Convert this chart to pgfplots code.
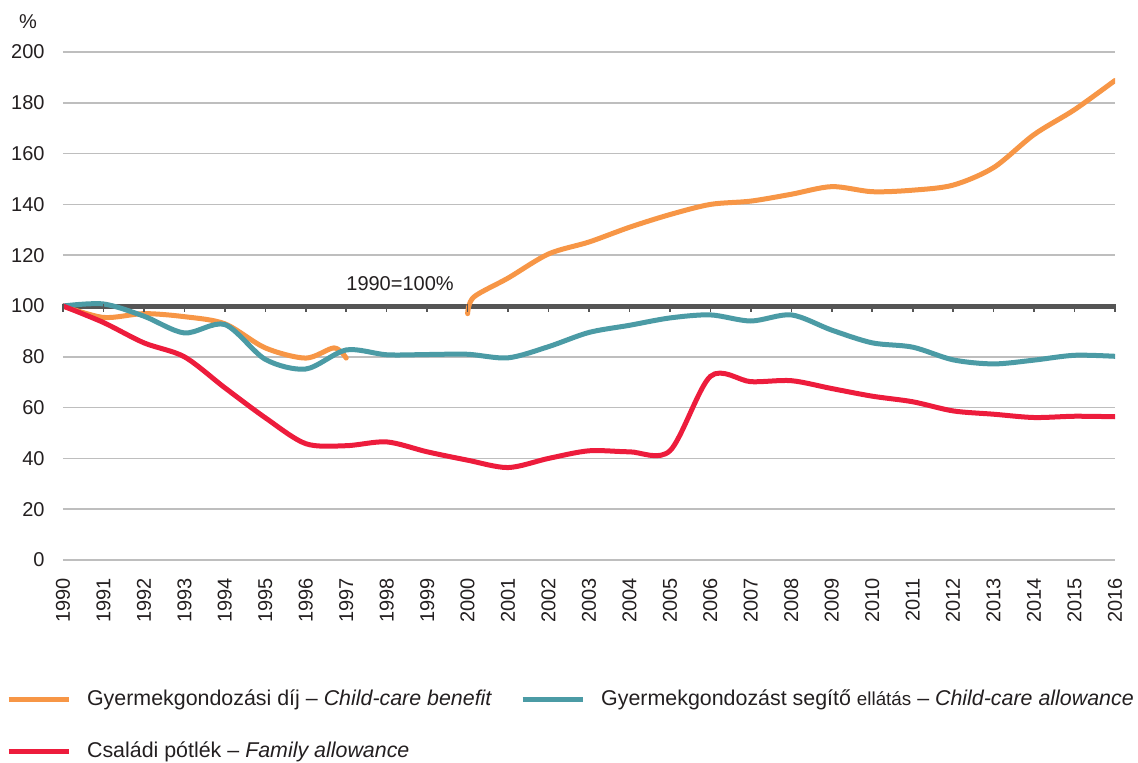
\documentclass[border=0pt]{standalone}
\usepackage{pgfplots}
\pgfplotsset{compat=1.18}
\usepackage{fontspec}
\setmainfont{Liberation Sans}
\definecolor{cOrange}{RGB}{247,150,70}
\definecolor{cTeal}{RGB}{75,155,165}
\definecolor{cRed}{RGB}{237,28,60}
\definecolor{cGrid}{RGB}{190,190,190}
\definecolor{cDark}{RGB}{85,85,85}
\definecolor{cText}{RGB}{35,31,32}
\begin{document}
\begin{tikzpicture}
\useasboundingbox (-31.5pt,-101pt) rectangle (537.5pt,280pt);
\begin{axis}[
  at={(0,0)}, anchor=south west,
  scale only axis, width=526pt, height=254pt,
  xmin=1990, xmax=2016, ymin=0, ymax=200,
  xtick={1990,...,2016}, ytick={0,20,...,200},
  /pgf/number format/1000 sep={},
  /pgf/number format/assume math mode=true,
  axis line style={draw=none}, tick style={draw=none},
  ymajorgrids, grid style={cGrid, line width=0.8pt},
  font=\fontsize{10}{12}\selectfont, 
  every tick label/.append style={text=cText},
  yticklabel style={anchor=east, inner sep=0pt, xshift=-9pt},
  xticklabel style={rotate=90, anchor=east, inner sep=0pt, xshift=-9pt},
  legend columns=2,
  legend cell align=left,
  legend style={at={(rel axis cs:-0.0545,-0.252)}, anchor=north west, draw=none, fill=none,
    inner sep=0pt, font=\fontsize{10.7}{12.8}\selectfont, text=cText,
    nodes={inner sep=0pt, text height=8.5pt, text depth=2.5pt},
    /tikz/every odd column/.append style={column sep=8pt},
    /tikz/every even column/.append style={column sep=14pt},
    row sep=15pt},
  legend image code/.code={\draw[#1, line width=2.5pt, line cap=butt] (0pt,0pt) -- (30pt,0pt);},
]
\addplot[cDark, line width=2.5pt, forget plot] coordinates {(1990,100)(2016,100)};
\addplot[cDark, only marks, mark=|, mark size=1.9pt, mark options={line width=0.8pt}, forget plot] coordinates {(1990,99.25)(1991,99.25)(1992,99.25)(1993,99.25)(1994,99.25)(1995,99.25)(1996,99.25)(1997,99.25)(1998,99.25)(1999,99.25)(2000,99.25)(2001,99.25)(2002,99.25)(2003,99.25)(2004,99.25)(2005,99.25)(2006,99.25)(2007,99.25)(2008,99.25)(2009,99.25)(2010,99.25)(2011,99.25)(2012,99.25)(2013,99.25)(2014,99.25)(2015,99.25)(2016,99.25)};
\addplot[cOrange, line width=2.5pt, smooth, line cap=round] coordinates {(1990,100)(1991,95.5)(1992,97)(1993,95.8)(1994,93)(1995,83.5)(1996,79.5)(1996.7,83.5)(1997,79.5)};
\addplot[cTeal, line width=2.5pt, smooth, line cap=round] coordinates {(1990,100)(1991,100.8)(1992,96)(1993,89.4)(1994,92.7)(1995,79)(1996,75.2)(1997,82.7)(1998,80.8)(1999,80.9)(2000,81)(2001,79.6)(2002,84)(2003,89.6)(2004,92.4)(2005,95.3)(2006,96.5)(2007,94.1)(2008,96.5)(2009,90.5)(2010,85.5)(2011,83.8)(2012,78.8)(2013,77.2)(2014,78.7)(2015,80.6)(2016,80.2)};
\addplot[cRed, line width=2.5pt, smooth, line cap=round] coordinates {(1990,100)(1991,93.5)(1992,85.5)(1993,80)(1994,67.8)(1995,56)(1996,45.8)(1997,45)(1998,46.5)(1999,42.6)(2000,39.3)(2001,36.4)(2002,40)(2003,43)(2004,42.6)(2005,43)(2006,72.3)(2007,70.2)(2008,70.6)(2009,67.5)(2010,64.5)(2011,62.3)(2012,58.7)(2013,57.4)(2014,56.1)(2015,56.6)(2016,56.4)};
\addplot[cOrange, line width=2.5pt, smooth, line cap=round, forget plot] coordinates {(2000,97)(2000.15,103.5)(2001,111)(2002,120.5)(2003,125.2)(2004,131)(2005,136)(2006,140)(2007,141.3)(2008,144)(2009,147)(2010,145)(2011,145.6)(2012,147.6)(2013,154.5)(2014,167.5)(2015,177.3)(2016,188.8)};
\legend{Gyermekgondozási díj – \textit{Child-care benefit},
        Gyermekgondozást segítő {\fontsize{9.4}{11}\selectfont ellátás} – \textit{Child-care allowance},
        Családi pótlék – \textit{Family allowance}}
\node[text=cText, font=\fontsize{10}{12}\selectfont] at (axis cs:1998.33,108.7) {1990=100\%};
\end{axis}
\node[text=cText, font=\fontsize{10}{12}\selectfont] at (-17.5pt,269pt) {\%};
\end{tikzpicture}
\end{document}
